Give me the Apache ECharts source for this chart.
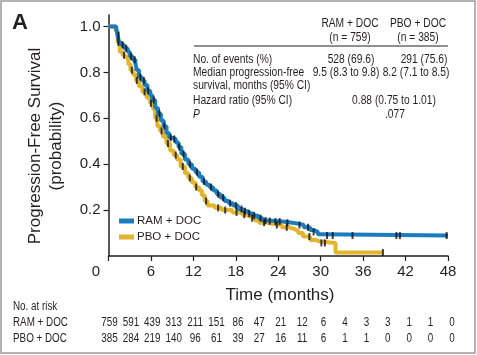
<!DOCTYPE html>
<html><head><meta charset="utf-8">
<script src="https://cdn.jsdelivr.net/npm/echarts@6/dist/echarts.min.js"></script>
<style>html,body{margin:0;padding:0;background:#fff}#c{width:477px;height:355px}</style>
</head><body><div id="c"></div>
<script>
// ---- data ----
const xTicks = [0, 6, 12, 18, 24, 30, 36, 42, 48];
const yTicks = [0.2, 0.4, 0.6, 0.8, 1.0];
const ramCurve = [[0,1.0],[1.1,0.99],[1.3,0.96],[1.5,0.93],[1.8,0.92],[2.2,0.905],[2.7,0.89],[3.0,0.87],[3.4,0.855],[3.8,0.84],[4.0,0.81],[4.3,0.78],[4.7,0.765],[5.1,0.745],[5.5,0.72],[5.9,0.70],[6.2,0.68],[6.6,0.645],[7.0,0.62],[7.4,0.59],[7.8,0.565],[8.2,0.535],[8.6,0.515],[9.0,0.51],[9.5,0.495],[9.9,0.475],[10.3,0.445],[10.8,0.42],[11.3,0.40],[11.8,0.38],[12.3,0.365],[12.8,0.345],[13.3,0.325],[13.8,0.31],[14.3,0.30],[14.8,0.285],[15.3,0.27],[15.8,0.255],[16.4,0.24],[17.0,0.23],[17.6,0.22],[18.3,0.205],[19.0,0.195],[19.8,0.185],[20.5,0.175],[21.2,0.165],[21.8,0.155],[22.5,0.152],[23.5,0.15],[24.6,0.145],[26.0,0.14],[27.0,0.135],[27.6,0.125],[28.5,0.113],[29.0,0.105],[29.6,0.095],[30.0,0.089],[48,0.089]];
const pboCurve = [[0,1.0],[1.0,0.98],[1.3,0.93],[1.6,0.89],[2.0,0.875],[2.4,0.865],[2.8,0.835],[3.1,0.81],[3.5,0.79],[3.9,0.765],[4.3,0.74],[4.8,0.715],[5.4,0.69],[5.9,0.665],[6.3,0.64],[6.6,0.60],[6.9,0.565],[7.3,0.545],[7.7,0.52],[8.2,0.49],[8.7,0.46],[9.2,0.44],[9.7,0.42],[10.2,0.39],[10.8,0.36],[11.3,0.34],[11.8,0.32],[12.3,0.30],[12.8,0.285],[13.2,0.265],[13.6,0.24],[14.0,0.22],[15.0,0.21],[16.0,0.20],[17.5,0.19],[18.9,0.18],[19.5,0.172],[20.0,0.165],[20.7,0.155],[21.3,0.145],[22.5,0.14],[23.2,0.135],[24.5,0.125],[25.6,0.118],[26.2,0.11],[26.8,0.10],[27.5,0.085],[28.5,0.07],[29.2,0.063],[29.9,0.057],[32.1,0.015],[38.8,0.015]];
const ramCensor = [1.4,2.0,2.5,3.2,3.7,4.5,5.0,5.6,6.4,7.2,7.9,8.8,9.3,10.0,10.6,11.5,12.5,13.5,14.5,15.5,16.2,17.2,18.0,18.8,19.3,19.9,20.6,21.5,22.2,22.8,23.6,24.2,25.3,27.0,28.2,29.0,30.9,31.7,34.5,40.7,41.2,47.8];
const pboCensor = [1.4,2.2,3.3,4.0,5.1,6.0,6.8,7.5,8.4,9.5,10.5,11.5,12.4,13.8,15.5,16.5,18.1,19.2,20.3,22.0,23.8,25.2,28.4,30.1,30.6,38.8];
const riskTimes = [0,3,6,9,12,15,18,21,24,27,30,33,36,39,42,45,48];
const ramRisk = [759,591,439,313,211,151,86,47,21,12,6,4,3,3,1,1,0];
const pboRisk = [385,284,219,140,96,61,39,27,16,11,6,1,1,0,0,0,0];
const ramName = 'RAM + DOC', pboName = 'PBO + DOC';

// ---- styles ----
const F = "'Liberation Sans', Arial, sans-serif";
const INK = '#231f20';
const BLUE = '#1a7dbf', YEL = '#e3b52c';
const NARROW = 0.82;

function stepValue(curve, t) {
  let v = curve[0][1];
  for (const p of curve) { if (p[0] <= t) v = p[1]; else break; }
  return v;
}

const chart = echarts.init(document.getElementById('c'), null, {renderer: 'canvas'});
const option = {
  animation: false,
  backgroundColor: '#fff',
  grid: {left: 108.5, right: 29, top: 15, bottom: 99, containLabel: false},
  xAxis: {
    type: 'value', min: 0, max: 48,
    axisLine: {show: true, lineStyle: {color: INK, width: 1.5}},
    axisTick: {show: true, length: 5, lineStyle: {color: INK, width: 1.2}, customValues: xTicks},
    axisLabel: {
      customValues: xTicks, margin: 8, color: INK, fontFamily: F, fontSize: 15,
      formatter: v => v === 0 ? '{z|0}' : String(v),
      rich: {z: {fontFamily: F, fontSize: 15, color: INK, padding: [0, 25, 0, 0]}}
    },
    splitLine: {show: false}
  },
  yAxis: {
    type: 'value', min: 0, max: 1.05,
    axisLine: {show: true, lineStyle: {color: INK, width: 1.5}},
    axisTick: {show: true, length: 5, lineStyle: {color: INK, width: 1.2}, customValues: yTicks},
    axisLabel: {customValues: yTicks, margin: 8, color: INK, fontFamily: F, fontSize: 15,
      formatter: v => v.toFixed(1)},
    splitLine: {show: false}
  },
  legend: {
    data: [ramName, pboName], orient: 'vertical', left: 114, top: 210,
    icon: 'rect', itemWidth: 15, itemHeight: 5, itemGap: 4,
    textStyle: {fontFamily: F, fontSize: 11.5, color: INK, padding: [0, 0, 0, -2]}
  },
  series: [
    {name: pboName, type: 'line', step: 'end', data: pboCurve, showSymbol: false, z: 2,
      lineStyle: {color: YEL, width: 4}, itemStyle: {color: YEL}},
    {name: ramName, type: 'line', step: 'end', data: ramCurve, showSymbol: false, z: 3,
      lineStyle: {color: BLUE, width: 4}, itemStyle: {color: BLUE}},
    {name: 'censor', type: 'scatter', symbol: 'rect', symbolSize: [2, 7], z: 4,
      itemStyle: {color: '#111'},
      data: pboCensor.map(t => [t, stepValue(pboCurve, t)]).concat(ramCensor.map(t => [t, stepValue(ramCurve, t)]))}
  ]
};
chart.setOption(option);

// ---- text & annotation overlay ----
const g = [];
function txt(x, y, s, opt) {
  opt = opt || {};
  g.push({type: 'text', x: x, y: y, silent: true, z: 10,
    scaleX: opt.sx === undefined ? NARROW : opt.sx,
    style: {text: s, fill: INK, font: opt.font || ('12.5px ' + F),
      textAlign: opt.align || 'left', textVerticalAlign: 'middle'}});
}
// frame
g.push({type: 'rect', shape: {x: 1, y: 1, width: 474, height: 352}, style: {fill: null, stroke: '#9a9a9a', lineWidth: 1.5}, silent: true});
// panel letter
txt(12, 23, 'A', {font: 'bold 22px ' + F, sx: 1});
// y title
g.push({type: 'text', x: 45.5, y: 146, rotation: Math.PI / 2, silent: true,
  style: {text: 'Progression-Free Survival\n(probability)', fill: INK, font: '17px ' + F,
    textAlign: 'center', textVerticalAlign: 'middle', lineHeight: 21}});
// x title
txt(280, 295, 'Time (months)', {font: '17px ' + F, align: 'center', sx: 1});
// summary table
txt(350, 23.5, ramName, {align: 'center'});
txt(350, 37.5, '(n = 759)', {align: 'center'});
txt(418, 23.5, pboName, {align: 'center'});
txt(418, 37.5, '(n = 385)', {align: 'center'});
g.push({type: 'line', shape: {x1: 194, y1: 46, x2: 448, y2: 46}, style: {stroke: INK, lineWidth: 1}, silent: true});
txt(193, 59.5, 'No. of events (%)');
txt(193, 73, 'Median progression-free');
txt(193, 86, 'survival, months (95% CI)');
txt(193, 100.5, 'Hazard ratio (95% CI)');
txt(193, 114.5, 'P', {font: 'italic 12.5px ' + F});
txt(351, 59.5, '528 (69.6)', {align: 'center'});
txt(424, 59.5, '291 (75.6)', {align: 'center'});
txt(346, 73, '9.5 (8.3 to 9.8)', {align: 'center'});
txt(416, 73, '8.2 (7.1 to 8.5)', {align: 'center'});
txt(394, 100.5, '0.88 (0.75 to 1.01)', {align: 'center'});
txt(395, 114.5, '.077', {align: 'center'});
// risk table
txt(13, 307, 'No. at risk', {font: '12px ' + F});
txt(13, 323, ramName, {font: '12px ' + F});
txt(13, 339, pboName, {font: '12px ' + F});
riskTimes.forEach((t, i) => {
  const x = chart.convertToPixel({xAxisIndex: 0}, t) + 1 + t / 16;
  txt(x, 323, String(ramRisk[i]), {font: '12px ' + F, align: 'center'});
  txt(x, 339, String(pboRisk[i]), {font: '12px ' + F, align: 'center'});
});
chart.setOption({graphic: {elements: g}});
</script></body></html>
